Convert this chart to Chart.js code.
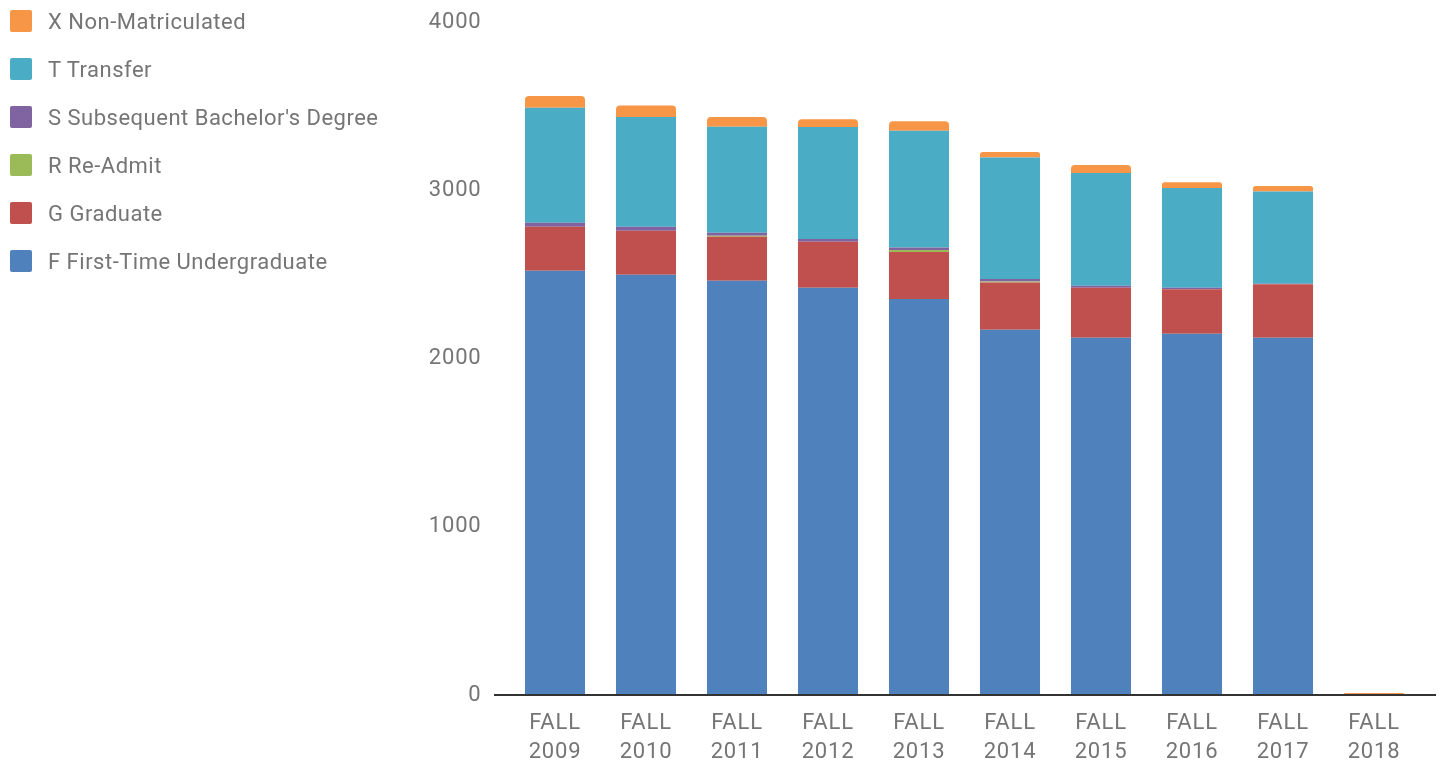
<!DOCTYPE html>
<html>
<head>
<meta charset="utf-8">
<script src="https://cdn.jsdelivr.net/npm/chart.js@4.4.1/dist/chart.umd.min.js"></script>
<style>
  html, body { margin: 0; padding: 0; background: #ffffff; }
  #wrap { position: relative; width: 1442px; height: 762px; }
  #c { position: absolute; left: 0; top: 0; }
  #legend { position: absolute; left: 10px; top: 10px; font-family: Roboto, sans-serif; font-size: 22px; color: #757575; letter-spacing: 0.5px; }
  .item { position: absolute; left: 0; height: 22px; display: flex; align-items: center; white-space: nowrap; }
  .box { width: 22px; height: 22px; border-radius: 2px; margin-right: 16px; flex: none; }
</style>
</head>
<body>
<div id="wrap">
  <canvas id="c" width="1442" height="762"></canvas>
  <div id="legend"></div>
</div>
<script>
const categories = [
  ["FALL", "2009"], ["FALL", "2010"], ["FALL", "2011"], ["FALL", "2012"], ["FALL", "2013"],
  ["FALL", "2014"], ["FALL", "2015"], ["FALL", "2016"], ["FALL", "2017"], ["FALL", "2018"]
];
const firstTimeUndergraduate = [2522, 2498, 2462, 2421, 2354, 2171, 2124, 2147, 2124, 0];
const graduate              = [261, 262, 262, 273, 279, 280, 297, 264, 317, 0];
const reAdmit               = [0, 0, 6, 0, 12, 6, 0, 0, 0, 0];
const subsequentBachelors   = [24, 23, 18, 16, 14, 16, 12, 10, 4, 0];
const transfer              = [684, 652, 630, 666, 695, 721, 670, 592, 547, 0];
const nonMatriculated       = [69, 68, 57, 46, 56, 33, 47, 34, 33, 12];
const yTicks = [0, 1000, 2000, 3000, 4000];
const yTickLabels = ["0", "1000", "2000", "3000", "4000"];

const seriesNames = [
  "F First-Time Undergraduate", "G Graduate", "R Re-Admit",
  "S Subsequent Bachelor's Degree", "T Transfer", "X Non-Matriculated"
];
const seriesValues = [firstTimeUndergraduate, graduate, reAdmit, subsequentBachelors, transfer, nonMatriculated];
const seriesColors = ["#4F81BD", "#C0504D", "#9BBB59", "#8064A2", "#4BACC6", "#F79646"];

const TEXT = "#757575";
const FONT = "Roboto, sans-serif";

const datasets = seriesNames.map((name, i) => ({
  label: name,
  data: seriesValues[i],
  backgroundColor: seriesColors[i],
  borderWidth: 0,
  borderRadius: i === seriesNames.length - 1 ? { topLeft: 4, topRight: 4, bottomLeft: 0, bottomRight: 0 } : 0,
  borderSkipped: false,
  categoryPercentage: 1.0,
  barPercentage: 0.66
}));

const textSpacingPlugin = {
  id: "textSpacing",
  beforeDraw(chart) { chart.ctx.letterSpacing = "0.8px"; }
};

const baselinePlugin = {
  id: "baseline",
  afterDatasetsDraw(chart) {
    const { ctx, chartArea, scales } = chart;
    const y = scales.y.getPixelForValue(0);
    ctx.save();
    ctx.strokeStyle = "#333333";
    ctx.lineWidth = 2;
    ctx.beginPath();
    ctx.moveTo(chartArea.left - 15.5, y);
    ctx.lineTo(chartArea.right + 16.5, y);
    ctx.stroke();
    ctx.restore();
  }
};

const chart = new Chart(document.getElementById("c"), {
  type: "bar",
  data: { labels: categories, datasets },
  options: {
    responsive: false,
    devicePixelRatio: 1,
    animation: false,
    layout: { padding: { top: 22, right: 22.5, bottom: 0, left: 0 } },
    plugins: { legend: { display: false }, tooltip: { enabled: false } },
    scales: {
      x: {
        stacked: true,
        grid: { display: false, drawTicks: false },
        border: { display: false },
        ticks: { color: TEXT, font: { family: FONT, size: 22, lineHeight: 1.32 }, padding: 14, maxRotation: 0, autoSkip: false },
        afterFit(s) { s.height = 67; s.paddingLeft = 0; s.paddingRight = 0; }
      },
      y: {
        stacked: true,
        min: 0,
        max: 4000,
        afterBuildTicks(s) { s.ticks = yTicks.map(v => ({ value: v })); },
        grid: { display: false, drawTicks: false },
        border: { display: false },
        ticks: {
          color: TEXT, font: { family: FONT, size: 22 }, padding: 28,
          callback: (v) => yTickLabels[yTicks.indexOf(v)]
        },
        afterFit(s) { s.width = 509.5; s.paddingTop = 0; s.paddingBottom = 0; }
      }
    }
  },
  plugins: [textSpacingPlugin, baselinePlugin]
});

// HTML legend built from the chart's datasets (top of stack listed first)
const legendEl = document.getElementById("legend");
chart.data.datasets.slice().reverse().forEach((ds, i) => {
  const item = document.createElement("div");
  item.className = "item";
  item.style.top = (i * 48) + "px";
  const box = document.createElement("span");
  box.className = "box";
  box.style.background = ds.backgroundColor;
  const txt = document.createElement("span");
  txt.textContent = ds.label;
  item.appendChild(box);
  item.appendChild(txt);
  legendEl.appendChild(item);
});
</script>
</body>
</html>
